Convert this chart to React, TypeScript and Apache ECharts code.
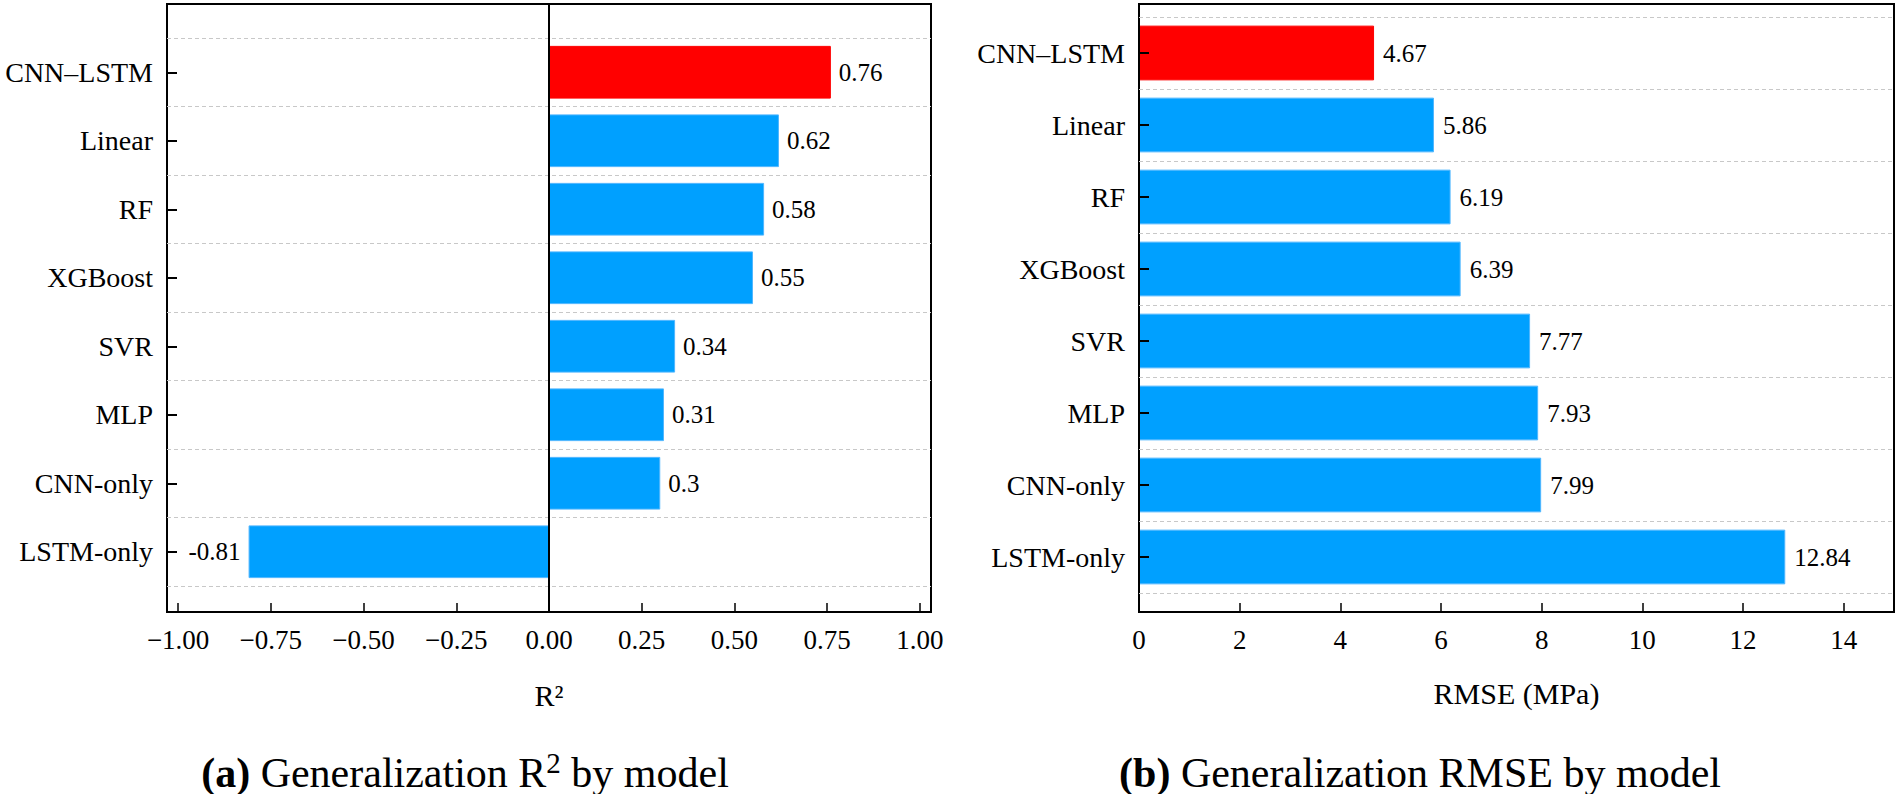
import React, { useEffect, useRef } from "react";
import * as echarts from "echarts";

const categories = ["CNN–LSTM", "Linear", "RF", "XGBoost", "SVR", "MLP", "CNN-only", "LSTM-only"];
const r2Values = [0.76, 0.62, 0.58, 0.55, 0.34, 0.31, 0.3, -0.81];
const rmseValues = [4.67, 5.86, 6.19, 6.39, 7.77, 7.93, 7.99, 12.84];
const r2Ticks = [-1, -0.75, -0.5, -0.25, 0, 0.25, 0.5, 0.75, 1];
const rmseTicks = [0, 2, 4, 6, 8, 10, 12, 14];
const highlight = "CNN–LSTM";

const FONT = "Liberation Serif";
const BLUE = "#00a0ff";
const RED = "#ff0000";

function barData(vals: number[]) {
  return vals.map((v, i) => ({
    value: v,
    itemStyle: {
      color: categories[i] === highlight ? RED : BLUE,
      borderColor: categories[i] === highlight ? RED : "#4fb6ff",
      borderWidth: 1,
    },
    label: { position: v < 0 ? "left" : "right" },
  }));
}

export default function App() {
  const ref = useRef<HTMLDivElement>(null);
  useEffect(() => {
    document.body.style.margin = "0";
    const chart = echarts.init(ref.current!, null, { renderer: "svg" });
    const boxLeft = { left: 167, top: 4, width: 764, height: 608 };
    const boxRight = { left: 1139, top: 4, width: 755, height: 608 };
    const grid = [
      { ...boxLeft, show: true, borderColor: "#000", borderWidth: 2, backgroundColor: "transparent", z: 10 },
      { left: 167, width: 764, top: 38, height: 548 },
      { ...boxRight, show: true, borderColor: "#000", borderWidth: 2, backgroundColor: "transparent", z: 10 },
      { left: 1139, width: 755, top: 17, height: 576 },
    ];
    const tickLabel = { fontFamily: FONT, fontSize: 27, color: "#000" };
    const nameStyle = { fontFamily: FONT, fontSize: 30, color: "#000" };
    const catAxis = (gridIndex: number) => ({
      type: "category",
      gridIndex,
      data: categories,
      inverse: true,
      boundaryGap: true,
      z: 10,
      axisLine: { show: false, onZero: false },
      axisTick: { show: true, inside: true, alignWithLabel: true, length: 10, lineStyle: { color: "#000", width: 2 } },
      axisLabel: { margin: 14, fontFamily: FONT, fontSize: 28, color: "#000" },
      splitLine: { show: true, lineStyle: { color: "#c8c8c8", width: 1, type: [4, 3] } },
    });
    const option: any = {
      animation: false,
      backgroundColor: "#fff",
      textStyle: { fontFamily: FONT },
      grid,
      xAxis: [
        {
          type: "value",
          gridIndex: 0,
          min: -1.03,
          max: 1.03,
          axisLine: { show: false, onZero: false },
          axisTick: { show: true, inside: true, length: 9, customValues: r2Ticks, lineStyle: { color: "#000", width: 1.5 } },
          axisLabel: {
            ...tickLabel,
            margin: 14,
            customValues: r2Ticks,
            formatter: (v: number) => (v < 0 ? "\u2212" : "") + Math.abs(v).toFixed(2),
          },
          splitLine: { show: false },
          name: "R\u00b2",
          nameLocation: "middle",
          nameGap: 68,
          nameTextStyle: nameStyle,
        },
        { type: "value", gridIndex: 1, min: -1.03, max: 1.03, show: false },
        {
          type: "value",
          gridIndex: 2,
          min: 0,
          max: 15,
          axisLine: { show: false, onZero: false },
          axisTick: { show: true, inside: true, length: 9, customValues: rmseTicks, lineStyle: { color: "#000", width: 1.5 } },
          axisLabel: { ...tickLabel, margin: 14, customValues: rmseTicks, formatter: (v: number) => String(v) },
          splitLine: { show: false },
          name: "RMSE (MPa)",
          nameLocation: "middle",
          nameGap: 66,
          nameTextStyle: nameStyle,
        },
        { type: "value", gridIndex: 3, min: 0, max: 15, show: false },
      ],
      yAxis: [
        {
          type: "value",
          gridIndex: 0,
          min: 0,
          max: 1,
          z: 10,
          axisLine: { show: true, onZero: true, lineStyle: { color: "#000", width: 2 } },
          axisTick: { show: false },
          axisLabel: { show: false },
          splitLine: { show: false },
        },
        catAxis(1),
        { type: "value", gridIndex: 2, show: false, min: 0, max: 1 },
        catAxis(3),
      ],
      series: [
        {
          type: "bar",
          xAxisIndex: 1,
          yAxisIndex: 1,
          barWidth: "77%",
          data: barData(r2Values),
          label: {
            show: true,
            distance: 8,
            fontFamily: FONT,
            fontSize: 25,
            color: "#000",
            formatter: (p: any) => String(p.value),
          },
        },
        {
          type: "bar",
          xAxisIndex: 3,
          yAxisIndex: 3,
          barWidth: "76%",
          data: barData(rmseValues),
          label: {
            show: true,
            distance: 9,
            fontFamily: FONT,
            fontSize: 25,
            color: "#000",
            formatter: (p: any) => Number(p.value).toFixed(2),
          },
        },
      ],
      graphic: [
        {
          type: "text",
          x: 465,
          y: 773,
          style: {
            text: "{b|(a)}{n| Generalization R}{s|2}{n| by model}",
            align: "center",
            verticalAlign: "middle",
            fontFamily: FONT,
            rich: {
              b: { fontFamily: FONT, fontSize: 42, fontWeight: "bold", lineHeight: 50, fill: "#000" },
              n: { fontFamily: FONT, fontSize: 42, lineHeight: 50, fill: "#000" },
              s: { fontFamily: FONT, fontSize: 29, lineHeight: 29, verticalAlign: "top", fill: "#000" },
            },
          },
        },
        {
          type: "text",
          x: 1420,
          y: 773,
          style: {
            text: "{b|(b)}{n| Generalization RMSE by model}",
            align: "center",
            verticalAlign: "middle",
            fontFamily: FONT,
            rich: {
              b: { fontFamily: FONT, fontSize: 42, fontWeight: "bold", lineHeight: 50, fill: "#000" },
              n: { fontFamily: FONT, fontSize: 42, lineHeight: 50, fill: "#000" },
            },
          },
        },
      ],
    };
    chart.setOption(option);
    return () => chart.dispose();
  }, []);
  return <div ref={ref} style={{ width: 1900, height: 794 }} />;
}
